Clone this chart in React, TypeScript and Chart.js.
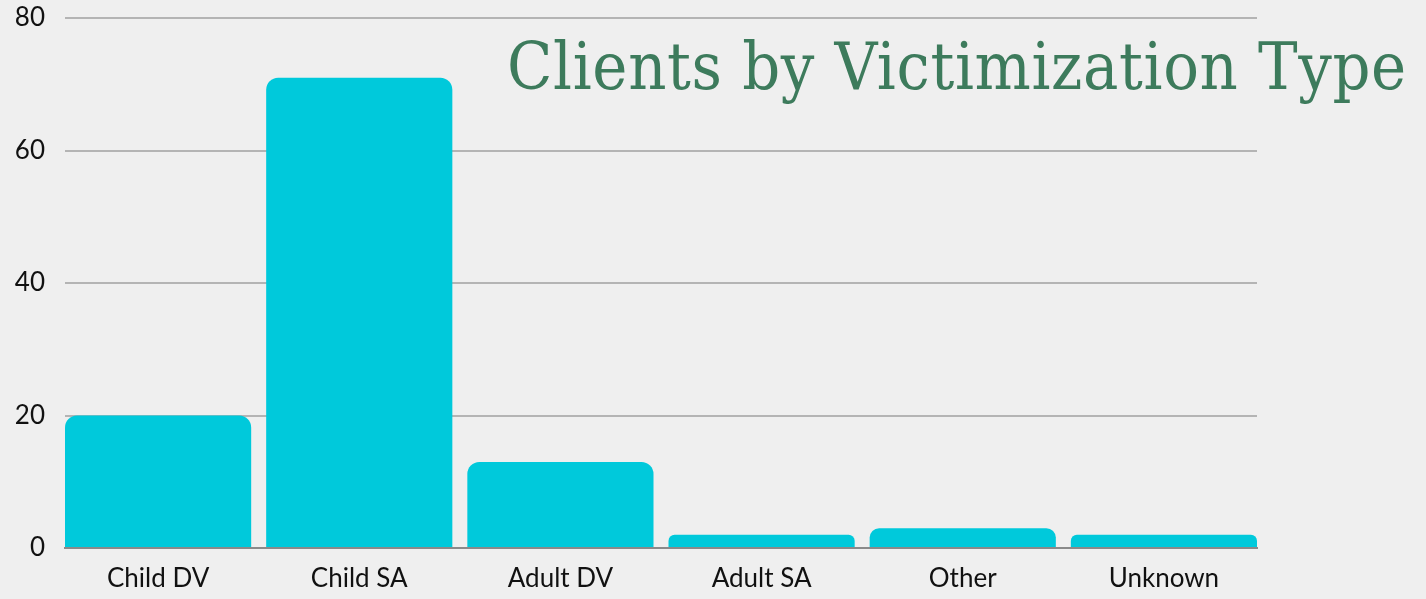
import React, { useEffect, useRef } from "react";
import { Chart, registerables } from "chart.js";

Chart.register(...registerables);

const categories = ["Child DV", "Child SA", "Adult DV", "Adult SA", "Other", "Unknown"];
const clientCounts = [20, 71, 13, 2, 3, 2];
const yTicks = [0, 20, 40, 60, 80];
const titleText = "Clients by Victimization Type";

export default function App() {
  const canvasRef = useRef<HTMLCanvasElement | null>(null);

  useEffect(() => {
    document.body.style.margin = "0";
    const ctx = canvasRef.current!.getContext("2d")!;
    const barPct = 0.9255;
    const half = barPct / 2;
    const chart = new Chart(ctx, {
      type: "bar",
      data: {
        datasets: [
          {
            data: clientCounts.map((v, i) => ({ x: i, y: v })),
            backgroundColor: "#00c9db",
            borderRadius: { topLeft: 12, topRight: 12, bottomLeft: 0, bottomRight: 0 },
            borderSkipped: "bottom",
            categoryPercentage: 1,
            barPercentage: barPct,
          },
        ],
      },
      options: {
        responsive: false,
        animation: false,
        layout: { padding: { left: 0, right: 169, top: 18, bottom: 0 } },
        plugins: { legend: { display: false }, tooltip: { enabled: false }, title: { display: false } },
        scales: {
          x: {
            type: "linear",
            min: -half,
            max: categories.length - 1 + half,
            offset: false,
            afterBuildTicks: (s: any) => { s.ticks = categories.map((_, i) => ({ value: i })); },
            grid: { display: false, drawTicks: false },
            border: { display: true, color: "#8a8a8a", width: 2 },
            ticks: {
              color: "#111",
              font: { family: "Lato", size: 26 },
              padding: 15,
              autoSkip: false,
              maxRotation: 0,
              callback: (v: any) => categories[v] ?? "",
            },
            afterFit: (s: any) => { s.height = 51; s.paddingLeft = 0; s.paddingRight = 0; },
          },
          y: {
            min: 0,
            max: 80,
            afterBuildTicks: (s: any) => { s.ticks = yTicks.map((v) => ({ value: v })); },
            grid: { color: "#b4b4b4", lineWidth: 2, drawTicks: false },
            border: { display: false },
            ticks: { color: "#111", font: { family: "Lato", size: 26 }, padding: 20 },
            afterFit: (s: any) => { s.width = 65; s.paddingTop = 0; s.paddingBottom = 0; },
          },
        },
      },
    });
    return () => chart.destroy();
  }, []);

  return (
    <div style={{ position: "relative", width: 1426, height: 599, background: "#efefef", overflow: "hidden" }}>
      <canvas ref={canvasRef} width={1426} height={599} style={{ position: "absolute", left: 0, top: 0 }} />
      <div
        style={{
          position: "absolute",
          left: 507,
          top: 22,
          fontFamily: "'DejaVu Serif Condensed', 'DejaVu Serif', serif",
          fontSize: 66,
          lineHeight: "90px",
          letterSpacing: "0.65px",
          color: "#3d7b5c",
          whiteSpace: "nowrap",
        }}
      >
        {titleText}
      </div>
    </div>
  );
}
